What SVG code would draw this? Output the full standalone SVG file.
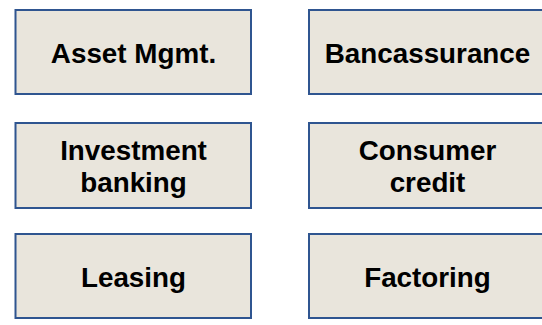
<svg xmlns="http://www.w3.org/2000/svg" width="542" height="325" viewBox="0 0 542 325">
<style>
.box{fill:#e9e5dc;stroke:#2f5590;stroke-width:2}
.t{font-family:"Liberation Sans",Arial,sans-serif;font-weight:bold;font-size:27.8px;fill:#000;text-anchor:middle}
</style>
<rect width="542" height="325" fill="#fff"/>
<g id="asset-mgmt"><rect class="box" x="15.5" y="10" width="235.5" height="84"/><text class="t" x="133.5" y="62.5">Asset Mgmt.</text></g>
<g id="bancassurance"><rect class="box" x="309" y="10" width="236" height="84"/><text class="t" x="427.5" y="62.5">Bancassurance</text></g>
<g id="investment-banking"><rect class="box" x="15.5" y="123" width="235.5" height="85"/><text class="t" x="133.5" y="160">Investment</text><text class="t" x="133.5" y="191.5">banking</text></g>
<g id="consumer-credit"><rect class="box" x="309" y="123" width="236" height="85"/><text class="t" x="427.5" y="160">Consumer</text><text class="t" x="427.5" y="191.5">credit</text></g>
<g id="leasing"><rect class="box" x="15.5" y="234" width="235.5" height="84"/><text class="t" x="133.5" y="287">Leasing</text></g>
<g id="factoring"><rect class="box" x="309" y="234" width="236" height="84"/><text class="t" x="427.5" y="287">Factoring</text></g>
<g id="connectors"></g>
</svg>
